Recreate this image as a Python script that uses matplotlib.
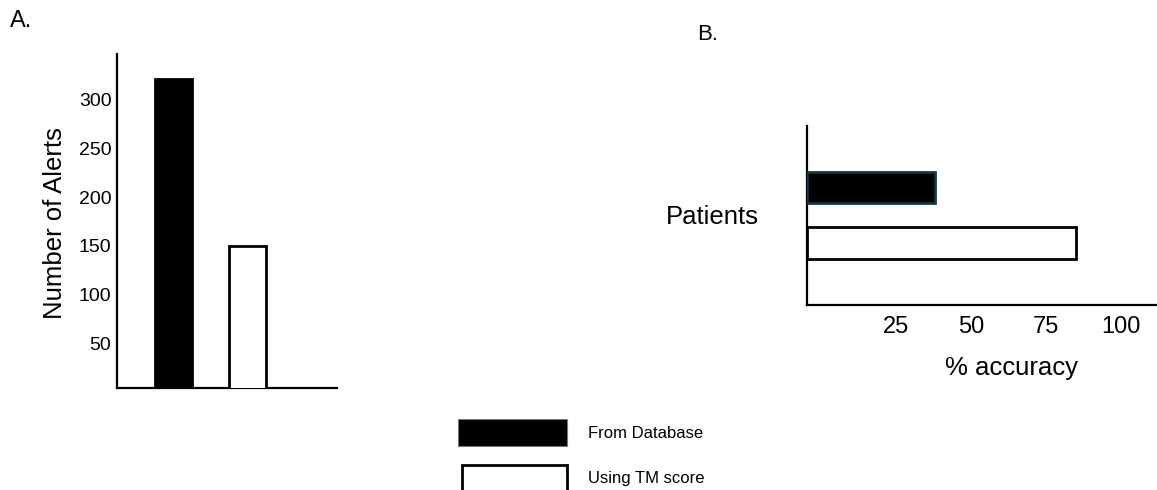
import matplotlib
matplotlib.use("Agg")
import matplotlib.pyplot as plt
from matplotlib.patches import Rectangle

# Data
alert_categories = ["From Database", "Using TM score"]
alert_counts = [320, 150]
alert_ticks = [50, 100, 150, 200, 250, 300]

acc_categories = ["Using TM score", "From Database"]   # bottom to top
acc_values = [85, 38]
acc_ticks = [25, 50, 75, 100]

legend_labels = ["From Database", "Using TM score"]

W, H = 1157, 490
plt.rcParams['font.family'] = ['Liberation Sans', 'DejaVu Sans']
fig = plt.figure(figsize=(W / 100, H / 100), dpi=100)
fig.patch.set_facecolor('white')


def rect(x0, y0, x1, y1):
    # pixel box (top-left origin) -> figure fraction
    return [x0 / W, (H - y1) / H, (x1 - x0) / W, (y1 - y0) / H]


# ---------- Panel A ----------
axA = fig.add_axes(rect(117, 54, 337, 388))
axA.bar([0, 1], alert_counts, width=0.51,
        color=['black', 'white'], edgecolor='black', linewidth=2.0, zorder=3)
axA.set_xlim(-0.764, 2.209)
axA.set_ylim(5, 346)
axA.set_yticks(alert_ticks)
axA.set_yticklabels([str(t) for t in alert_ticks], fontsize=14)
axA.set_xticks([])
axA.tick_params(axis='y', length=0, pad=4)
for s in ['top', 'right']:
    axA.spines[s].set_visible(False)
for s in ['left', 'bottom']:
    axA.spines[s].set_linewidth(1.6)
axA.set_ylabel("Number of Alerts", fontsize=18.5)
axA.yaxis.set_label_coords(-0.282, 0.494)
axA.yaxis.label.set_va('center')

fig.text(21 / W, 1 - 21 / H, "A.", fontsize=17, ha='center', va='center')

# ---------- Panel B ----------
axB = fig.add_axes(rect(807, 126, 1160, 305))
xmin, xmax = -4.7, 113
axB.barh([0, 1], [v - xmin for v in acc_values], left=xmin, height=0.56,
         color=['white', 'black'], edgecolor=['black', '#153545'],
         linewidth=2.0, zorder=3)
axB.set_xlim(xmin, xmax)
axB.set_ylim(-1.117, 2.108)
axB.set_xticks(acc_ticks)
axB.set_xticklabels([str(t) for t in acc_ticks], fontsize=17)
axB.set_yticks([])
axB.tick_params(axis='x', length=0, pad=8)
for s in ['top', 'right']:
    axB.spines[s].set_visible(False)
for s in ['left', 'bottom']:
    axB.spines[s].set_linewidth(1.6)
axB.set_xlabel("% accuracy", fontsize=18.5)
axB.xaxis.set_label_coords(0.58, -0.352)
axB.xaxis.label.set_va('center')
axB.set_ylabel("Patients", fontsize=18.5, rotation=0, ha='center', va='center')
axB.yaxis.set_label_coords(-0.269, 0.4916)

fig.text(708 / W, 1 - 34 / H, "B.", fontsize=16, ha='center', va='center')

# ---------- Legend ----------
fig.patches.append(Rectangle((458 / W, 1 - 446 / H), 109 / W, 27 / H,
                             transform=fig.transFigure, facecolor='black',
                             edgecolor='#777777', linewidth=0.8))
fig.patches.append(Rectangle((462 / W, 1 - 493 / H), 105 / W, 28 / H,
                             transform=fig.transFigure, facecolor='white',
                             edgecolor='black', linewidth=2.0))
fig.text(588 / W, 1 - 433 / H, legend_labels[0], fontsize=12,
         ha='left', va='center')
fig.text(588 / W, 1 - 478 / H, legend_labels[1], fontsize=12,
         ha='left', va='center')

fig.savefig("out.png", dpi=100, facecolor='white')
